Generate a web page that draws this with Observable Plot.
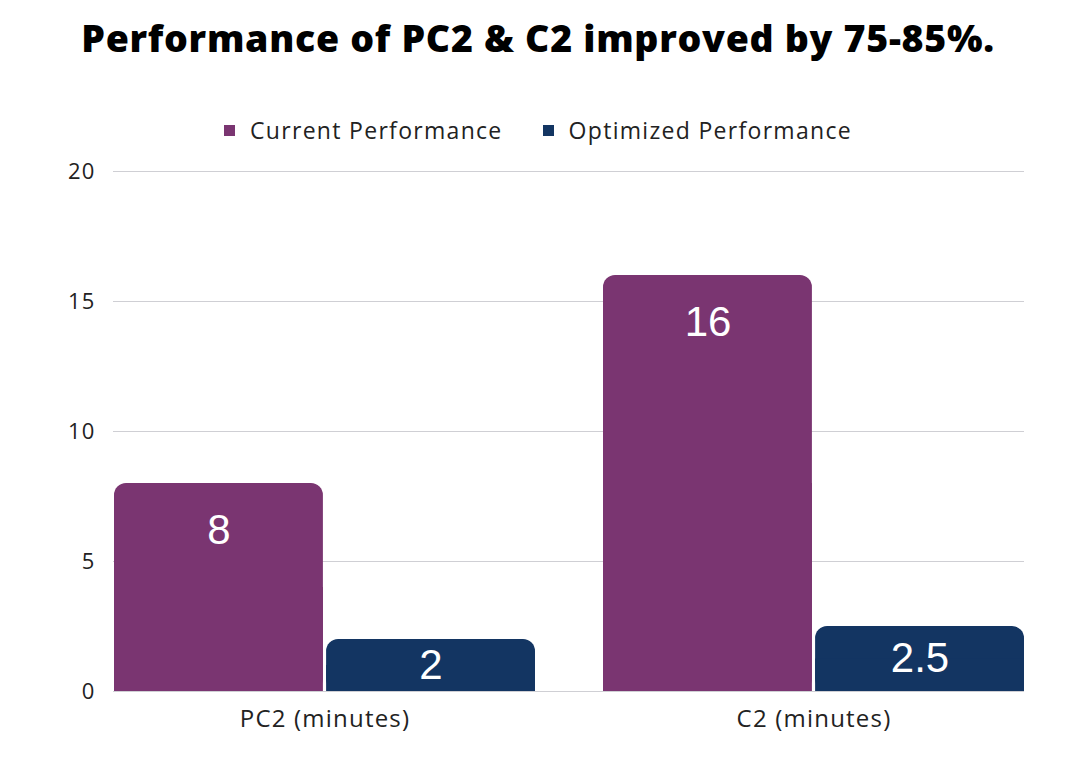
<!DOCTYPE html>
<html>
<head>
<meta charset="utf-8">
<script src="https://cdn.jsdelivr.net/npm/d3@7"></script>
<script src="https://cdn.jsdelivr.net/npm/@observablehq/plot@0.6"></script>
<style>
  body { margin: 0; background: #fff; width: 1076px; overflow: hidden; }
  #title { height: 78px; line-height: 76px; text-align: center; font-family: "Open Sans", sans-serif; font-weight: 800; font-size: 37.5px; color: #000; letter-spacing: 0.7px; }
  #legend { height: 78px; display: flex; justify-content: center; align-items: center; font-family: "Open Sans", sans-serif; font-size: 23px; letter-spacing: 1.3px; color: #222; padding-top: 26px; box-sizing: border-box; }
  .item { display: flex; align-items: center; margin: 0 20px; }
  .sw { width: 11px; height: 11px; margin-right: 15px; }
  svg { display: block; }
  svg text { letter-spacing: 1.2px; }
  svg text.lbl, svg .lbl text { letter-spacing: 0; }
</style>
</head>
<body>
<div id="title">Performance of PC2 &amp; C2 improved by 75-85%.</div>
<div id="legend"></div>
<div id="chart"></div>
<script>
const categories = ["PC2 (minutes)", "C2 (minutes)"];
const seriesNames = ["Current Performance", "Optimized Performance"];
const currentValues = [8, 16];
const optimizedValues = [2, 2.5];
const yTicks = [0, 5, 10, 15, 20];
const colors = ["#7a3571", "#133562"];

const current = categories.map((c, i) => ({category: c, series: seriesNames[0], value: currentValues[i]}));
const optimized = categories.map((c, i) => ({category: c, series: seriesNames[1], value: optimizedValues[i]}));

const legend = document.getElementById("legend");
seriesNames.forEach((s, i) => {
  const it = document.createElement("div");
  it.className = "item";
  it.innerHTML = `<div class="sw" style="background:${colors[i]}"></div><span>${s}</span>`;
  legend.appendChild(it);
});

const half = 212.1;   // inset to split each category band into two bars
const shift = 106;    // label offset to the centre of each half

function barsFor(rows, side) {
  const inset = side === "left" ? {insetRight: half} : {insetLeft: half};
  return [
    Plot.barY(rows, {x: "category", y: "value", fill: "series", rx: 12, ...inset}),
    Plot.barY(rows, {x: "category", y1: 0, y2: d => d.value / 2, fill: "series", ...inset}),
    Plot.text(rows, {x: "category", y: d => Math.max(d.value / 2, d.value - 1.8), text: d => String(d.value),
      dx: side === "left" ? -shift : shift, fill: "#fff", fontSize: 42,
      fontFamily: "Liberation Sans, Arial, sans-serif", lineAnchor: "middle", className: "lbl"})
  ];
}

const chart = Plot.plot({
  width: 1076,
  height: 600,
  marginLeft: 113,
  marginRight: 52,
  marginTop: 15,
  marginBottom: 65,
  style: {fontFamily: "Open Sans, sans-serif", fontSize: "20px", color: "#222", background: "#fff"},
  x: {domain: categories, paddingInner: 0.14, paddingOuter: 0, label: null},
  y: {domain: [0, 20], ticks: yTicks, label: null},
  color: {domain: seriesNames, range: colors},
  marks: [
    Plot.gridY(yTicks, {stroke: "#cfcfd4", strokeOpacity: 1, strokeWidth: 1}),
    Plot.axisY(yTicks, {tickSize: 0, tickPadding: 18, fontSize: 22, label: null, fill: "#222"}),
    Plot.axisX({tickSize: 0, tickPadding: 18, fontSize: 24, label: null, fill: "#222"}),
    ...barsFor(current, "left"),
    ...barsFor(optimized, "right")
  ]
});
document.getElementById("chart").appendChild(chart);
</script>
</body>
</html>
